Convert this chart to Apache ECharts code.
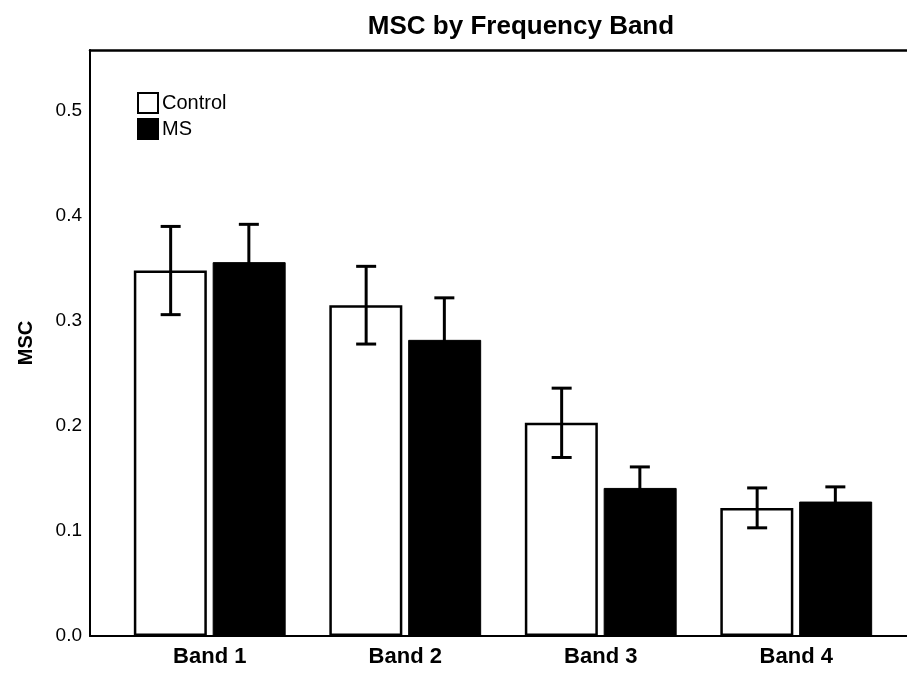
<!DOCTYPE html>
<html>
<head>
<meta charset="utf-8">
<script src="https://cdn.jsdelivr.net/npm/echarts@6/dist/echarts.min.js"></script>
<style>
html,body{margin:0;padding:0;background:#fff;}
#chart{width:907px;height:673px;}
</style>
</head>
<body>
<div id="chart"></div>
<script>
var categories = ['Band 1', 'Band 2', 'Band 3', 'Band 4'];
var controlMean = [0.348, 0.315, 0.203, 0.122];
var controlErr  = [0.042, 0.037, 0.033, 0.019];
var msMean      = [0.356, 0.282, 0.141, 0.128];
var msErr       = [0.036, 0.040, 0.020, 0.014];
var yTicks = ['0.0', '0.1', '0.2', '0.3', '0.4', '0.5'];

var FONT = 'Liberation Sans, Arial, Helvetica, sans-serif';
var Y_MAX = 0.558;

function errData(mean, err) {
  return mean.map(function (m, i) { return [i, m - err[i], m + err[i]]; });
}

function errRender(side) {
  return function (params, api) {
    var idx = api.value(0);
    var band = api.size([1, 0])[0];
    var off = side * band * 0.2;
    var lo = api.coord([idx, api.value(1)]);
    var hi = api.coord([idx, api.value(2)]);
    var x = lo[0] + off;
    var cap = 10;
    var style = { stroke: '#000', lineWidth: 3, fill: null };
    return {
      type: 'group',
      children: [
        { type: 'line', shape: { x1: x, y1: lo[1], x2: x, y2: hi[1] }, style: style },
        { type: 'line', shape: { x1: x - cap, y1: lo[1], x2: x + cap, y2: lo[1] }, style: style },
        { type: 'line', shape: { x1: x - cap, y1: hi[1], x2: x + cap, y2: hi[1] }, style: style }
      ]
    };
  };
}

var chart = echarts.init(document.getElementById('chart'), null, { renderer: 'canvas' });
chart.setOption({
  backgroundColor: '#fff',
  animation: false,
  title: {
    text: 'MSC by Frequency Band',
    left: 516, textAlign: 'center', top: 9,
    textStyle: { fontFamily: FONT, fontWeight: 'bold', fontSize: 26, color: '#000' }
  },
  legend: {
    orient: 'vertical',
    left: 132, top: 87,
    itemWidth: 20, itemHeight: 20, itemGap: 4,
    icon: 'rect',
    textStyle: { fontFamily: FONT, fontSize: 20, color: '#000', padding: [0, 0, 0, -1] },
    data: ['Control', 'MS']
  },
  grid: [
    { left: 90, top: 50, right: -30, bottom: 37 },
    { left: 112, top: 50, right: 13, bottom: 37 }
  ],
  xAxis: [
    { gridIndex: 0, type: 'value', min: 0, max: 1, position: 'bottom',
      axisLine: { show: true, lineStyle: { color: '#000', width: 2 } },
      axisTick: { show: false }, axisLabel: { show: false }, splitLine: { show: false } },
    { gridIndex: 0, type: 'value', min: 0, max: 1, position: 'top',
      axisLine: { show: true, lineStyle: { color: '#000', width: 2.5 } },
      axisTick: { show: false }, axisLabel: { show: false }, splitLine: { show: false } },
    { gridIndex: 1, type: 'category', data: categories, boundaryGap: true,
      axisLine: { show: false }, axisTick: { show: false }, splitLine: { show: false },
      axisLabel: { fontFamily: FONT, fontWeight: 'bold', fontSize: 22, color: '#000', margin: 10 } }
  ],
  yAxis: [
    { gridIndex: 0, type: 'value', min: 0, max: Y_MAX, interval: 0.1,
      name: 'MSC', nameLocation: 'middle', nameGap: 54, nameRotate: 90,
      nameTextStyle: { fontFamily: FONT, fontWeight: 'bold', fontSize: 20, color: '#000' },
      axisLine: { show: true, lineStyle: { color: '#000', width: 2 } },
      axisTick: { show: false }, splitLine: { show: false },
      axisLabel: { showMaxLabel: false, fontFamily: FONT, fontSize: 19, color: '#000', margin: 8,
        formatter: function (v) { var i = Math.round(v * 10); return yTicks[i] !== undefined ? yTicks[i] : ''; } } },
    { gridIndex: 1, type: 'value', min: 0, max: Y_MAX, show: false, splitLine: { show: false } }
  ],
  series: [
    { name: 'Control', type: 'bar', xAxisIndex: 2, yAxisIndex: 1, data: controlMean,
      barWidth: 73, barGap: '8%',
      itemStyle: { color: '#fff', borderColor: '#000', borderWidth: 2.5 } },
    { name: 'MS', type: 'bar', xAxisIndex: 2, yAxisIndex: 1, data: msMean,
      barWidth: 73, barGap: '8%',
      itemStyle: { color: '#000', borderColor: '#000', borderWidth: 1 } },
    { type: 'custom', xAxisIndex: 2, yAxisIndex: 1, data: errData(controlMean, controlErr),
      renderItem: errRender(-1), z: 10, encode: { x: 0, y: [1, 2] } },
    { type: 'custom', xAxisIndex: 2, yAxisIndex: 1, data: errData(msMean, msErr),
      renderItem: errRender(1), z: 10, encode: { x: 0, y: [1, 2] } }
  ]
});
</script>
</body>
</html>
